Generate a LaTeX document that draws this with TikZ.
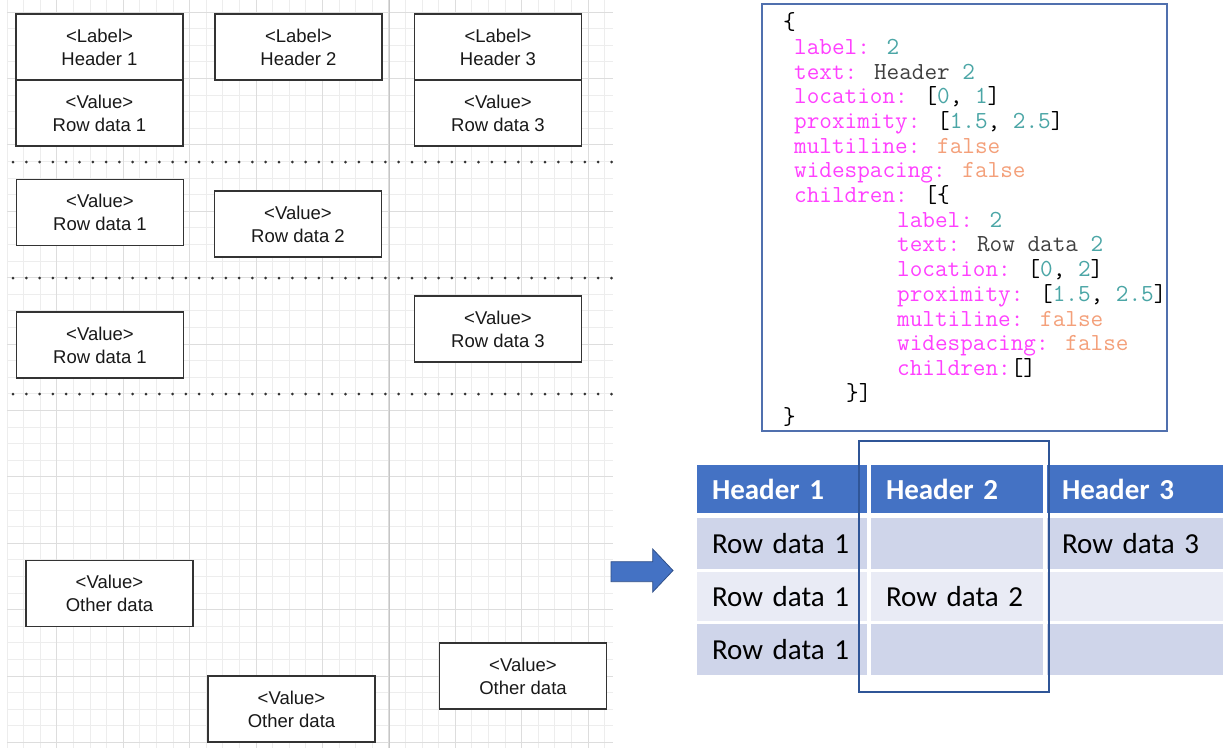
\documentclass[tikz,border=0pt]{standalone}
\usepackage{fontspec}
\setmainfont{Liberation Sans}
\newfontfamily\tablefont{Carlito}

\definecolor{gridminor}{HTML}{EDEDED}
\definecolor{gridmajor}{HTML}{DDDDDD}
\definecolor{gridmid}{HTML}{C6C6C6}
\definecolor{boxline}{HTML}{333333}
\definecolor{hdrblue}{HTML}{4472C4}
\definecolor{rowdark}{HTML}{CFD5EA}
\definecolor{rowlight}{HTML}{E9EBF5}
\definecolor{frameblue}{HTML}{5070AE}
\definecolor{selblue}{HTML}{2F5597}
\definecolor{jkey}{HTML}{FF40FF}
\definecolor{jnum}{HTML}{4BA6A6}
\definecolor{jbool}{HTML}{F4A07A}
\definecolor{jtext}{HTML}{404040}

\newcommand{\jk}[1]{\textcolor{jkey}{#1}}
\newcommand{\jn}[1]{\textcolor{jnum}{#1}}
\newcommand{\jf}[1]{\textcolor{jbool}{#1}}
\newcommand{\jt}[1]{\textcolor{jtext}{#1}}

\begin{document}
\begin{tikzpicture}[
        x=1pt, y=-1pt,
        field/.style = {draw=boxline, fill=white, line width=1.4pt, minimum width=167pt,
                        minimum height=66pt, align=center, inner sep=0pt,
                        font=\fontsize{18.5}{23}\selectfont, text=black!90},
        dotrow/.style = {draw=boxline, line width=3pt, line cap=round, dash pattern=on 0pt off 13.3pt},
        code/.style = {anchor=base west, inner sep=0pt, font=\fontsize{24.5}{25}\selectfont\ttfamily},
        tcell/.style = {inner xsep=15pt, inner ysep=0pt, align=left, text width=#1,
                        font=\fontsize{29}{30}\selectfont\tablefont},
        thead/.style = {tcell=#1, fill=hdrblue, text=white, minimum height=48pt,
                        font=\fontsize{29}{30}\selectfont\tablefont\bfseries},
        rowd/.style = {tcell=#1, fill=rowdark, minimum height=51pt},
        rowl/.style = {tcell=#1, fill=rowlight, minimum height=49pt}
        ]

        \fill[white] (0,0) rectangle (1223,748);
        \useasboundingbox (0,0) rectangle (1223,748);

        % grid paper
        \foreach \k in {0,...,36}
            \draw[gridminor, line width=1pt] ({7+16.6*\k},0) -- ({7+16.6*\k},748);
        \foreach \j in {0,...,44}
            \draw[gridminor, line width=1pt] (7,{12+16.6*\j}) -- (613,{12+16.6*\j});
        \foreach \k in {0,...,8}
            \draw[gridmajor, line width=1pt] ({56.8+66.4*\k},0) -- ({56.8+66.4*\k},748);
        \foreach \j in {0,...,11}
            \draw[gridmajor, line width=1pt] (7,{12+66.4*\j}) -- (613,{12+66.4*\j});
        \draw[gridmid, line width=1pt] (389,0) -- (389,748);

        % row separators
        \draw[dotrow] (13,162) -- (612,162);
        \draw[dotrow] (13,278) -- (612,278);
        \draw[dotrow] (13,394) -- (612,394);

        % labelled fields
        \node (H1) at (99.5,47)   [field] {<Label>\\Header 1};
        \node (V11) at (99.5,113) [field] {<Value>\\Row data 1};
        \node (H2) at (298.5,47)  [field] {<Label>\\Header 2};
        \node (H3) at (498,47)    [field] {<Label>\\Header 3};
        \node (V13) at (498,113)  [field] {<Value>\\Row data 3};

        \node (V21) at (100,212.5) [field] {<Value>\\Row data 1};
        \node (V22) at (298,224)   [field] {<Value>\\Row data 2};

        \node (V31) at (100,345)   [field] {<Value>\\Row data 1};
        \node (V33) at (498,329)   [field] {<Value>\\Row data 3};

        \node (O1) at (109.5,593.5) [field] {<Value>\\Other data};
        \node (O2) at (291.5,709)   [field] {<Value>\\Other data};
        \node (O3) at (523,676)     [field] {<Value>\\Other data};

        % block arrow
        \filldraw[fill=hdrblue, draw=hdrblue!70!black, line width=0.8pt]
            (611,561.7) -- (652.7,561.7) -- (652.7,549) -- (673,570.5)
            -- (652.7,592) -- (652.7,581.7) -- (611,581.7) -- cycle;

        % json of one header
        \node (json) at (964.5,217.5) [draw=frameblue, line width=2.5pt,
                                        minimum width=405pt, minimum height=427pt] {};
        \node (c0) at (783,29.6)   [code] {\{};
        \node (c1) at (794,54.3)   [code] {\jk{label:} \jn{2}};
        \node (c2) at (794,79)     [code] {\jk{text:} \jt{Header} \jn{2}};
        \node (c3) at (794,103.7)  [code] {\jk{location:} [\jn{0}, \jn{1}]};
        \node (c4) at (794,128.4)  [code] {\jk{proximity:} [\jn{1.5}, \jn{2.5}]};
        \node (c5) at (794,153.1)  [code] {\jk{multiline:} \jf{false}};
        \node (c6) at (794,177.8)  [code] {\jk{widespacing:} \jf{false}};
        \node (c7) at (794,202.5)  [code] {\jk{children:} [\{};
        \node (c8) at (897,227.2)  [code] {\jk{label:} \jn{2}};
        \node (c9) at (897,251.9)  [code] {\jk{text:} \jt{Row data} \jn{2}};
        \node (c10) at (897,276.6) [code] {\jk{location:} [\jn{0}, \jn{2}]};
        \node (c11) at (897,301.3) [code] {\jk{proximity:} [\jn{1.5}, \jn{2.5}]};
        \node (c12) at (897,326)   [code] {\jk{multiline:} \jf{false}};
        \node (c13) at (897,350.7) [code] {\jk{widespacing:} \jf{false}};
        \node (c14) at (897,375.4) [code] {\jk{children:}[]};
        \node (c15) at (846,400.1) [code] {\}]};
        \node (c16) at (783,424.8) [code] {\}};

        % resulting table
        \node (hd1) at (782,489)    [thead=140pt] {Header 1};
        \node (hd2) at (957,489)    [thead=142pt] {Header 2};
        \node (hd3) at (1135,489)   [thead=146pt] {Header 3};
        \node (r1c1) at (782,543.5) [rowd=140pt] {Row data 1};
        \node (r1c2) at (957,543.5) [rowd=142pt] {};
        \node (r1c3) at (1135,543.5) [rowd=146pt] {Row data 3};
        \node (r2c1) at (782,596.5) [rowl=140pt] {Row data 1};
        \node (r2c2) at (957,596.5) [rowl=142pt] {Row data 2};
        \node (r2c3) at (1135,596.5) [rowl=146pt] {};
        \node (r3c1) at (782,649.5) [rowd=140pt] {Row data 1};
        \node (r3c2) at (957,649.5) [rowd=142pt] {};
        \node (r3c3) at (1135,649.5) [rowd=146pt] {};

        % selected column
        \node (sel) at (954,566.5) [draw=selblue, line width=2pt,
                                    minimum width=190pt, minimum height=251pt] {};
    \end{tikzpicture}
\end{document}
